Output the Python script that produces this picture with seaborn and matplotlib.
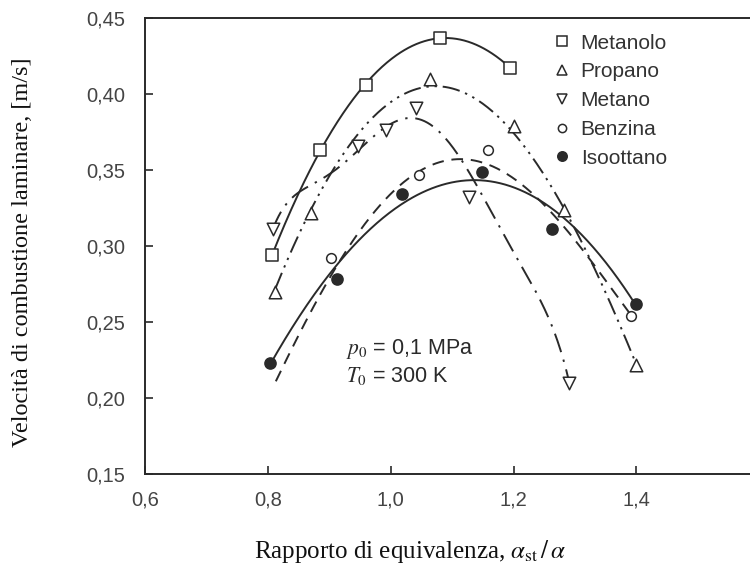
import numpy as np
import pandas as pd
import matplotlib
matplotlib.use("Agg")
import matplotlib.pyplot as plt
import seaborn as sns

# ---------------- data ----------------
# measured points (markers)
metanolo_x = [0.807, 0.885, 0.959, 1.081, 1.195]
metanolo_y = [0.294, 0.363, 0.406, 0.437, 0.417]

propano_x = [0.812, 0.871, 1.064, 1.200, 1.282, 1.399]
propano_y = [0.270, 0.322, 0.410, 0.379, 0.324, 0.222]

metano_x = [0.808, 0.946, 0.993, 1.041, 1.128, 1.291]
metano_y = [0.311, 0.366, 0.376, 0.391, 0.332, 0.210]

benzina_x = [0.903, 1.046, 1.158, 1.392]
benzina_y = [0.292, 0.347, 0.363, 0.254]

isoottano_x = [0.804, 0.913, 1.019, 1.149, 1.262, 1.400]
isoottano_y = [0.223, 0.278, 0.334, 0.349, 0.311, 0.262]

# trend curves, read along the drawn lines of the reference
metanolo_curve_x = [0.807, 0.885, 0.959, 1.081, 1.195]
metanolo_curve_y = [0.294, 0.363, 0.406, 0.437, 0.417]

propano_curve_x = [0.812, 0.841, 0.871, 0.891, 0.959, 1.046, 1.087, 1.144, 1.172,
                   1.201, 1.237, 1.265, 1.315, 1.367, 1.399]
propano_curve_y = [0.271, 0.300, 0.322, 0.344, 0.378, 0.401, 0.406, 0.396, 0.387,
                   0.376, 0.354, 0.334, 0.300, 0.254, 0.223]

metano_curve_x = [0.808, 0.880, 0.946, 0.993, 1.023, 1.041, 1.056, 1.085, 1.108,
                  1.140, 1.203, 1.255, 1.291]
metano_curve_y = [0.311, 0.342, 0.364, 0.376, 0.383, 0.386, 0.383, 0.373, 0.360,
                  0.339, 0.295, 0.254, 0.210]

benzina_curve_x = [0.813, 0.835, 0.858, 0.890, 0.906, 0.939, 0.971, 1.004, 1.046,
                   1.097, 1.123, 1.174, 1.206, 1.232, 1.290, 1.340, 1.390]
benzina_curve_y = [0.207, 0.230, 0.249, 0.275, 0.289, 0.302, 0.319, 0.329, 0.344,
                   0.359, 0.361, 0.354, 0.346, 0.334, 0.304, 0.280, 0.258]

isoottano_curve_x = [0.804, 0.843, 0.887, 0.940, 0.977, 1.021, 1.065, 1.110, 1.200,
                     1.284, 1.348, 1.400]
isoottano_curve_y = [0.223, 0.251, 0.273, 0.294, 0.313, 0.331, 0.341, 0.347, 0.337,
                     0.313, 0.291, 0.262]

series_names = ["Metanolo", "Propano", "Metano", "Benzina", "Isoottano"]
smooth_orders = [3, 4, 6, 4, 3]

x_ticks = [0.6, 0.8, 1.0, 1.2, 1.4]
x_ticklabels = ["0,6", "0,8", "1,0", "1,2", "1,4"]
y_ticks = [0.15, 0.20, 0.25, 0.30, 0.35, 0.40, 0.45]
y_ticklabels = ["0,15", "0,20", "0,25", "0,30", "0,35", "0,40", "0,45"]

# ---------------- style ----------------
sns.set_theme(style="ticks")
plt.rcParams["font.family"] = ["Liberation Sans", "DejaVu Sans"]
plt.rcParams["mathtext.fontset"] = "stix"

INK = "#2a2a2a"
markers = ["s", "^", "v", "o", "o"]
msizes = [8.5, 9, 9, 7, 8]
faces = ["white", "white", "white", "white", INK]
linestyles = ["-", (0, (9, 3, 1.2, 3, 1.2, 3)), (0, (10, 4, 1.2, 4)), (0, (6, 4)), "-"]

pts_x = [metanolo_x, propano_x, metano_x, benzina_x, isoottano_x]
pts_y = [metanolo_y, propano_y, metano_y, benzina_y, isoottano_y]
crv_x = [metanolo_curve_x, propano_curve_x, metano_curve_x, benzina_curve_x, isoottano_curve_x]
crv_y = [metanolo_curve_y, propano_curve_y, metano_curve_y, benzina_curve_y, isoottano_curve_y]

fig = plt.figure(figsize=(7.5, 5.69), dpi=100)
ax = fig.add_axes([145 / 750, 1 - 474 / 569, 605 / 750, 456 / 569])

handles = []
for i, name in enumerate(series_names):
    cx, cy = np.array(crv_x[i]), np.array(crv_y[i])
    coef = np.polyfit(cx, cy, smooth_orders[i])
    xx = np.linspace(cx.min(), cx.max(), 300)
    curve = pd.DataFrame({"x": xx, "y": np.polyval(coef, xx)})
    sns.lineplot(data=curve, x="x", y="y", ax=ax, color=INK, linewidth=1.4,
                 linestyle=linestyles[i], zorder=2)
    pts = pd.DataFrame({"x": pts_x[i], "y": pts_y[i]})
    sns.scatterplot(data=pts, x="x", y="y", ax=ax, marker=markers[i],
                    s=msizes[i] ** 2, color=faces[i], edgecolor=INK,
                    linewidth=1.1, zorder=3)
    h, = ax.plot([], [], linestyle="none", marker=markers[i],
                 markersize=msizes[i] * 0.85, markerfacecolor=faces[i],
                 markeredgecolor=INK, markeredgewidth=1.1)
    handles.append(h)

ax.set_xlim(0.6, 1.585)
ax.set_ylim(0.15, 0.45)
ax.set_xticks(x_ticks)
ax.set_xticklabels(x_ticklabels)
ax.set_yticks(y_ticks)
ax.set_yticklabels(y_ticklabels)
ax.tick_params(direction="in", length=6, width=1.2, colors=INK, labelsize=14.5)
ax.tick_params(axis="y", pad=14)
ax.tick_params(axis="x", pad=12)
for t in ax.get_xticklabels() + ax.get_yticklabels():
    t.set_color("#444444")

for side in ["left", "bottom", "top"]:
    ax.spines[side].set_visible(True)
    ax.spines[side].set_linewidth(1.4)
    ax.spines[side].set_color(INK)
ax.spines["right"].set_visible(False)

ax.set_xlabel(r"Rapporto di equivalenza, $\alpha_{\rm st}\,/\,\alpha$",
              family="Liberation Serif", fontsize=18, color="#111111")
ax.xaxis.set_label_coords(0.438, -0.14)
ax.set_ylabel("Velocità di combustione laminare, [m/s]",
              family="Liberation Serif", fontsize=17.5, color="#111111")
ax.yaxis.set_label_coords(-0.185, 0.487)

ax.text(0.928, 0.2325, r"$p_0$ = 0,1 MPa", fontsize=15.5, color=INK,
        ha="left", va="center")
ax.text(0.928, 0.2145, r"$T_0$ = 300 K", fontsize=15.5, color=INK,
        ha="left", va="center")

ax.legend(handles, series_names, loc="upper left", bbox_to_anchor=(0.672, 0.966),
          frameon=False, fontsize=15, handlelength=1.0, handletextpad=0.4,
          labelspacing=0.47, borderpad=0, borderaxespad=0, labelcolor="#333333")

fig.savefig("out.png", dpi=100)
